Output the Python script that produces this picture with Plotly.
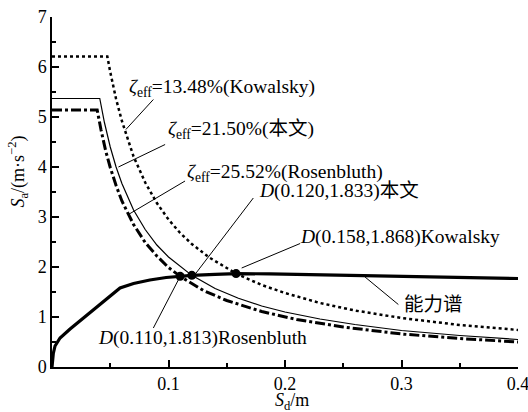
import plotly.graph_objects as go

# Capacity spectrum (能力谱)
cap_sd = [0, 0.0011, 0.0026, 0.0069, 0.0155, 0.0326, 0.0584, 0.070, 0.084, 0.098,
          0.110, 0.120, 0.140, 0.158, 0.187, 0.230, 0.273, 0.330, 0.400]
cap_sa = [0, 0.27, 0.42, 0.58, 0.76, 1.08, 1.58, 1.67, 1.74, 1.79,
          1.813, 1.833, 1.852, 1.868, 1.862, 1.845, 1.825, 1.80, 1.77]

# Demand spectrum, zeta_eff = 13.48% (Kowalsky)
kow_sd = [0, 0.0475, 0.05, 0.055, 0.06, 0.065, 0.07, 0.08, 0.09, 0.10, 0.11, 0.12,
          0.135, 0.158, 0.18, 0.20, 0.23, 0.26, 0.30, 0.35, 0.40]
kow_sa = [6.21, 6.21, 5.90, 5.36, 4.92, 4.54, 4.21, 3.69, 3.28, 2.95, 2.68, 2.46,
          2.19, 1.868, 1.64, 1.48, 1.28, 1.13, 0.98, 0.84, 0.74]

# Demand spectrum, zeta_eff = 21.50% (本文)
bw_sd = [0, 0.041, 0.045, 0.05, 0.055, 0.06, 0.07, 0.08, 0.09, 0.10, 0.12, 0.14,
         0.16, 0.18, 0.20, 0.23, 0.26, 0.30, 0.35, 0.40]
bw_sa = [5.37, 5.37, 4.89, 4.40, 4.00, 3.67, 3.14, 2.75, 2.44, 2.20, 1.833, 1.57,
         1.375, 1.22, 1.10, 0.96, 0.85, 0.73, 0.63, 0.55]

# Demand spectrum, zeta_eff = 25.52% (Rosenbluth)
ros_sd = [0, 0.0388, 0.042, 0.046, 0.05, 0.055, 0.06, 0.07, 0.08, 0.09, 0.10, 0.11,
          0.13, 0.15, 0.18, 0.21, 0.25, 0.30, 0.35, 0.40]
ros_sa = [5.14, 5.14, 4.75, 4.33, 3.99, 3.63, 3.32, 2.85, 2.49, 2.22, 1.99, 1.813,
          1.53, 1.33, 1.11, 0.95, 0.80, 0.66, 0.57, 0.50]

# Performance points
pt_sd = [0.110, 0.120, 0.158]
pt_sa = [1.813, 1.833, 1.868]

x_tickvals = [0, 0.1, 0.2, 0.3, 0.4]
x_ticktext = ["", "0.1", "0.2", "0.3", "0.4"]
x_minor = [0.05, 0.15, 0.25, 0.35]

FONT = "'Liberation Serif', 'Noto Sans CJK SC', serif"
FS = 19.5

fig = go.Figure()
fig.add_trace(go.Scatter(x=kow_sd, y=kow_sa, mode="lines", cliponaxis=False,
                         line=dict(color="black", width=2.5, dash="dot")))
fig.add_trace(go.Scatter(x=bw_sd, y=bw_sa, mode="lines", cliponaxis=False,
                         line=dict(color="black", width=1.2)))
fig.add_trace(go.Scatter(x=ros_sd, y=ros_sa, mode="lines", cliponaxis=False,
                         line=dict(color="black", width=3, dash="10px,3px,3px,3px")))
fig.add_trace(go.Scatter(x=cap_sd, y=cap_sa, mode="lines", cliponaxis=False,
                         line=dict(color="black", width=3.2)))
fig.add_trace(go.Scatter(x=pt_sd, y=pt_sa, mode="markers",
                         marker=dict(color="black", size=9)))

# leader lines (data coords)
leaders = [
    ((0.0634, 4.75), (0.0870, 5.35)),
    ((0.0570, 4.00), (0.0971, 4.45)),
    ((0.0656, 3.05), (0.1142, 3.72)),
    ((0.1227, 1.85), (0.1728, 3.38)),
    ((0.1628, 1.98), (0.2130, 2.47)),
    ((0.1093, 1.78), (0.0870, 0.78)),
    ((0.2687, 1.80), (0.2973, 1.25)),
]
for (x0, y0), (x1, y1) in leaders:
    fig.add_shape(type="line", x0=x0, y0=y0, x1=x1, y1=y1, xref="x", yref="y",
                  line=dict(color="black", width=1))

labels = [
    (0.0644, 5.59, "<i>ζ</i><sub>eff</sub>=13.48%(Kowalsky)"),
    (0.0979, 4.75, "<i>ζ</i><sub>eff</sub>=21.50%(本文)"),
    (0.1142, 3.89, "<i>ζ</i><sub>eff</sub>=25.52%(Rosenbluth)"),
    (0.1760, 3.53, "<i>D</i>(0.120,1.833)本文"),
    (0.2115, 2.61, "<i>D</i>(0.158,1.868)Kowalsky"),
    (0.0375, 0.59, "<i>D</i>(0.110,1.813)Rosenbluth"),
    (0.3000, 1.26, "能力谱"),
]
for x, y, t in labels:
    fig.add_annotation(x=x, y=y, xref="x", yref="y", text=t, showarrow=False,
                       xanchor="left", yanchor="middle",
                       font=dict(family=FONT, size=FS, color="black"))

# axis titles
fig.add_annotation(x=-0.074, y=0.557, xref="paper", yref="paper",
                   xanchor="center", yanchor="middle",
                   text="<i>S</i><sub>a</sub>/(m·s<sup>−2</sup>)", textangle=-90,
                   showarrow=False, font=dict(family=FONT, size=18, color="black"))
fig.add_annotation(x=0.516, y=-0.098, xref="paper", yref="paper",
                   xanchor="center", yanchor="middle",
                   text="<i>S</i><sub>d</sub>/m", showarrow=False,
                   font=dict(family=FONT, size=18, color="black"))

fig.update_xaxes(range=[0, 0.4], tickmode="array", tickvals=x_tickvals, ticktext=x_ticktext,
                 ticks="inside", ticklen=7, tickwidth=1.5, tickcolor="black",
                 showline=True, linecolor="black", linewidth=1.5,
                 showgrid=False, zeroline=False, automargin=False,
                 ticklabeloverflow="allow",
                 minor=dict(tickmode="array", tickvals=x_minor, ticks="inside",
                            ticklen=4, tickwidth=1.5, tickcolor="black", showgrid=False),
                 tickfont=dict(family=FONT, size=18, color="black"))
fig.update_yaxes(range=[0, 7], dtick=1, tick0=0,
                 ticks="inside", ticklen=7, tickwidth=1.5, tickcolor="black",
                 showline=True, linecolor="black", linewidth=1.5,
                 showgrid=False, zeroline=False, automargin=False,
                 ticklabeloverflow="allow",
                 minor=dict(dtick=0.5, ticks="inside", ticklen=4, tickwidth=1.5,
                            tickcolor="black", showgrid=False),
                 tickfont=dict(family=FONT, size=18, color="black"))

fig.update_layout(width=528, height=412, showlegend=False,
                  margin=dict(l=52, r=10, t=17, b=45),
                  paper_bgcolor="white", plot_bgcolor="white",
                  font=dict(family=FONT, size=18, color="black"))

# remove the default 8px page margin so the figure fills the 528x412 window
fig.write_html("out.html", config={"displayModeBar": False},
               post_script="document.body.style.margin='0';document.body.style.overflow='hidden';")
